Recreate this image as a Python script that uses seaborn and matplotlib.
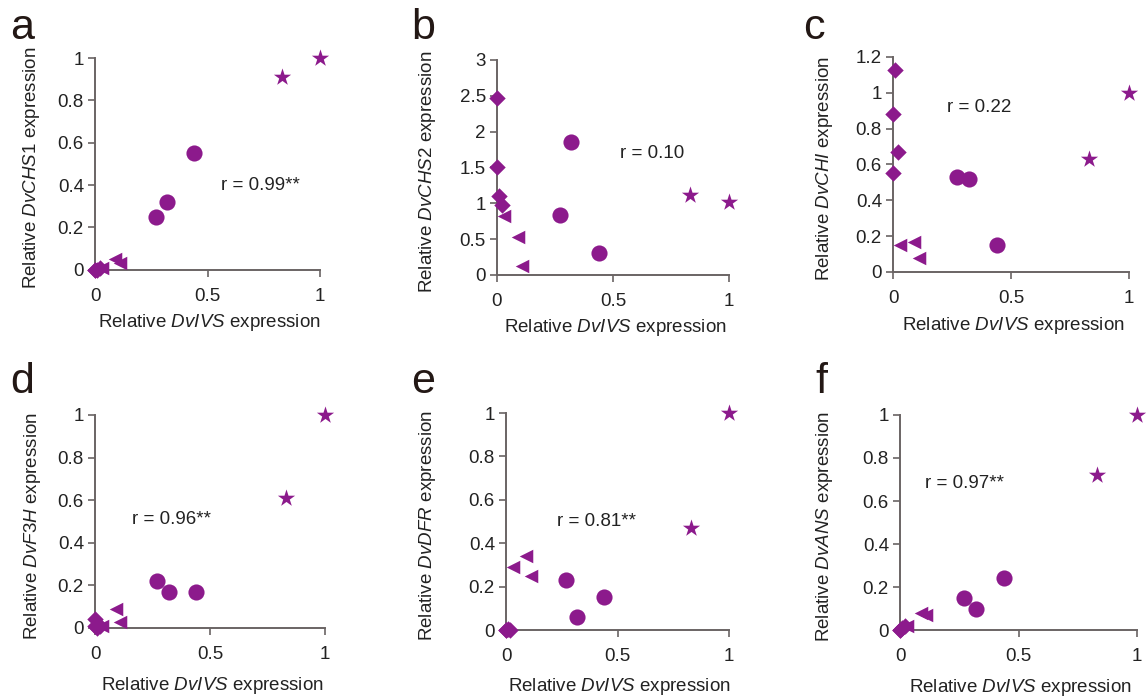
import numpy as np
import pandas as pd
import matplotlib
matplotlib.use("Agg")
import matplotlib.pyplot as plt
import seaborn as sns

sns.set_theme(style="white")
plt.rcParams["font.family"] = ["Liberation Sans", "DejaVu Sans"]
plt.rcParams["mathtext.fontset"] = "custom"
plt.rcParams["mathtext.rm"] = "Liberation Sans"
plt.rcParams["mathtext.it"] = "Liberation Sans:italic"

# ---- data ----
groups = ["diamond"] * 4 + ["triangle"] * 3 + ["circle"] * 3 + ["star"] * 2
dvivs = [0.0, 0.0, 0.01, 0.02, 0.03, 0.09, 0.11, 0.27, 0.32, 0.44, 0.83, 1.0]

chs1 = [0.0, 0.0, 0.0, 0.01, 0.01, 0.05, 0.03, 0.25, 0.32, 0.55, 0.91, 1.0]
chs2 = [2.47, 1.50, 1.10, 0.97, 0.82, 0.53, 0.13, 0.83, 1.85, 0.31, 1.12, 1.02]
chi = [0.88, 0.55, 1.13, 0.67, 0.15, 0.17, 0.08, 0.53, 0.52, 0.15, 0.63, 1.0]
f3h = [0.04, 0.01, 0.0, 0.01, 0.01, 0.09, 0.03, 0.22, 0.17, 0.17, 0.61, 1.0]
dfr = [0.0, 0.0, 0.005, 0.0, 0.29, 0.34, 0.25, 0.23, 0.06, 0.15, 0.47, 1.0]
ans = [0.0, 0.0, 0.01, 0.02, 0.02, 0.08, 0.07, 0.15, 0.10, 0.24, 0.72, 1.0]

panel_letters = ["a", "b", "c", "d", "e", "f"]
gene_labels = [r"Relative $\it{DvCHS1}$ expression",
               r"Relative $\it{DvCHS}$2 expression",
               r"Relative $\it{DvCHI}$ expression",
               r"Relative $\it{DvF3H}$ expression",
               r"Relative $\it{DvDFR}$ expression",
               r"Relative $\it{DvANS}$ expression"]
r_texts = ["r = 0.99**", "r = 0.10", "r = 0.22", "r = 0.96**", "r = 0.81**", "r = 0.97**"]
y_ticks = [[0, 0.2, 0.4, 0.6, 0.8, 1],
           [0, 0.5, 1, 1.5, 2, 2.5, 3],
           [0, 0.2, 0.4, 0.6, 0.8, 1, 1.2],
           [0, 0.2, 0.4, 0.6, 0.8, 1],
           [0, 0.2, 0.4, 0.6, 0.8, 1],
           [0, 0.2, 0.4, 0.6, 0.8, 1]]
y_ticklabels = [["0", "0.2", "0.4", "0.6", "0.8", "1"],
                ["0", "0.5", "1", "1.5", "2", "2.5", "3"],
                ["0", "0.2", "0.4", "0.6", "0.8", "1", "1.2"],
                ["0", "0.2", "0.4", "0.6", "0.8", "1"],
                ["0", "0.2", "0.4", "0.6", "0.8", "1"],
                ["0", "0.2", "0.4", "0.6", "0.8", "1"]]
x_ticks = [0, 0.5, 1]
x_ticklabels = ["0", "0.5", "1"]
series = [chs1, chs2, chi, f3h, dfr, ans]

# ---- layout / style ----
PURPLE = "#8c1a8c"
SPINE = "#6a6464"
marker_map = {"diamond": "D", "triangle": "<", "circle": "o", "star": "*"}
size_map = {"diamond": 70, "triangle": 95, "circle": 135, "star": 170}

axes_rects = [
    [0.0828, 0.614, 0.196, 0.303],
    [0.4329, 0.6066, 0.2021, 0.3076],
    [0.7779, 0.6109, 0.2056, 0.3076],
    [0.0828, 0.1016, 0.2003, 0.3047],
    [0.4408, 0.0987, 0.1943, 0.3104],
    [0.7840, 0.0987, 0.2064, 0.3076],
]
r_pos = [(0.56, 0.40), (0.53, 1.70), (0.23, 0.92), (0.16, 0.51), (0.23, 0.50), (0.105, 0.68)]
ylabel_x = [-0.236, -0.254, -0.245, -0.228, -0.307, -0.273]
xlabel_y = [-0.20, -0.195, -0.20, -0.22, -0.21, -0.22]
letter_pos = [(0.009, 0.944), (0.358, 0.944), (0.700, 0.944),
              (0.009, 0.438), (0.358, 0.438), (0.710, 0.438)]

fig = plt.figure(figsize=(11.48, 6.99), dpi=100)
FS = 13.5

for i in range(6):
    ax = fig.add_axes(axes_rects[i])
    df = pd.DataFrame({"x": dvivs, "y": series[i], "g": groups})
    for g in ["diamond", "triangle", "circle", "star"]:
        sub = df[df["g"] == g]
        sns.scatterplot(data=sub, x="x", y="y", ax=ax, marker=marker_map[g],
                        s=size_map[g], color=PURPLE, linewidth=0,
                        clip_on=False, zorder=3, legend=False)
    ax.set_xlim(0, 1)
    ax.set_ylim(0, y_ticks[i][-1])
    ax.set_xticks(x_ticks)
    ax.set_xticklabels(x_ticklabels)
    ax.set_yticks(y_ticks[i])
    ax.set_yticklabels(y_ticklabels[i])
    for s in ["top", "right"]:
        ax.spines[s].set_visible(False)
    for s in ["left", "bottom"]:
        ax.spines[s].set_color(SPINE)
        ax.spines[s].set_linewidth(1.4)
    ax.tick_params(axis="both", direction="out", length=5, width=1.2,
                   color=SPINE, labelsize=FS, labelcolor="#222222")
    ax.tick_params(axis="x", pad=8, bottom=True)
    ax.tick_params(axis="y", pad=3, left=True)
    ax.set_xlabel(r"Relative $\it{DvIVS}$ expression", fontsize=FS, color="#222222")
    ax.set_ylabel(gene_labels[i], fontsize=FS, color="#222222")
    ax.xaxis.set_label_coords(0.51, xlabel_y[i])
    ax.yaxis.set_label_coords(ylabel_x[i], 0.48)
    ax.text(r_pos[i][0], r_pos[i][1], r_texts[i], fontsize=FS, color="#222222",
            ha="left", va="center")
    ax.set_facecolor("none")
    fig.text(letter_pos[i][0], letter_pos[i][1], panel_letters[i], fontsize=31,
             color="#231815", ha="left", va="baseline")

fig.savefig("out.png", dpi=100, facecolor="white")
